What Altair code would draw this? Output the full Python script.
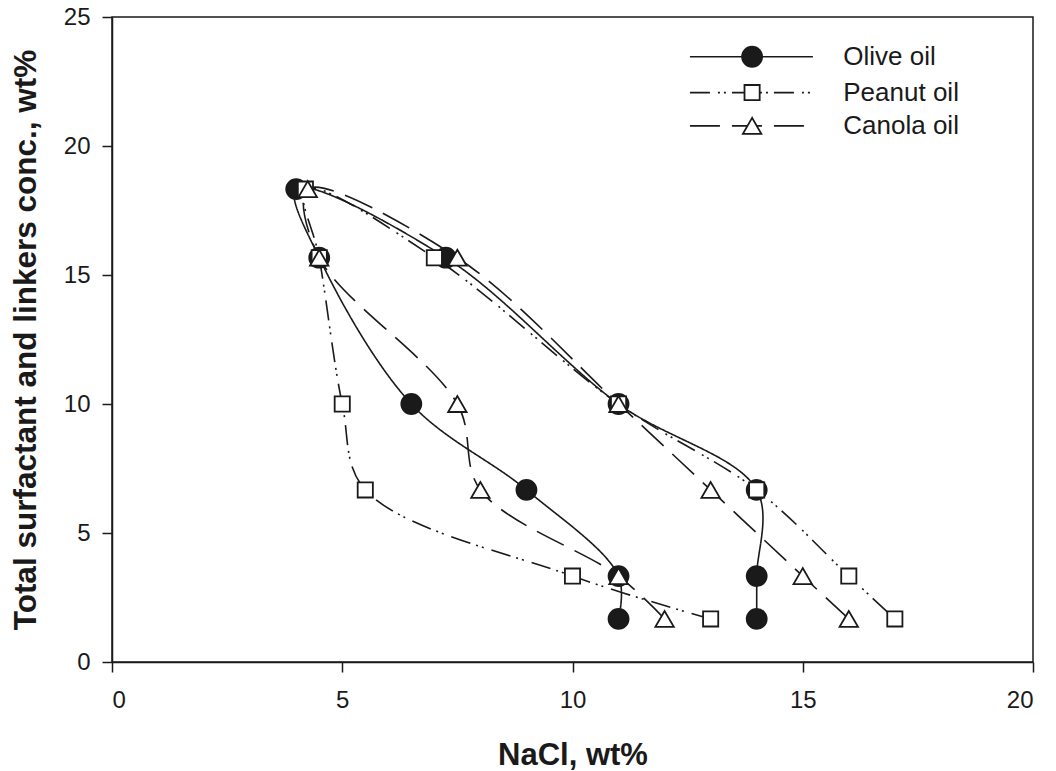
import altair as alt
import pandas as pd

# ---- data ----
y_levels = [1.67, 3.33, 6.67, 10.0, 15.67, 18.33, 15.67, 10.0, 6.67, 3.33, 1.67]
olive_x = [11.0, 11.0, 9.0, 6.5, 4.5, 4.0, 7.25, 11.0, 14.0, 14.0, 14.0]
peanut_x = [13.0, 10.0, 5.5, 5.0, 4.5, 4.2, 7.0, 11.0, 14.0, 16.0, 17.0]
canola_x = [12.0, 11.0, 8.0, 7.5, 4.5, 4.25, 7.5, 11.0, 13.0, 15.0, 16.0]
series_names = ["Olive oil", "Peanut oil", "Canola oil"]

rows = []
for name, xs in zip(series_names, [olive_x, peanut_x, canola_x]):
    for i, (xv, yv) in enumerate(zip(xs, y_levels)):
        rows.append({"oil": name, "order": i, "nacl": xv, "conc": yv})
df = pd.DataFrame(rows)

FONT = "Liberation Sans"
INK = "#1a1a1a"
styles = {
    "Olive oil": dict(dash=[1, 0], shape="circle", fill=INK, size=400),
    "Peanut oil": dict(dash=[20, 8, 2, 4, 2, 6], shape="square", fill="white", size=230),
    "Canola oil": dict(dash=[30, 12], shape="triangle-up", fill="white", size=340),
}

xscale = alt.Scale(domain=[0, 20], nice=False, zero=False)
yscale = alt.Scale(domain=[0, 25], nice=False, zero=False)
xaxis = alt.Axis(values=[0, 5, 10, 15, 20], title="NaCl, wt%", format="d",
                 titleFontSize=31, titlePadding=28)
yaxis = alt.Axis(values=[0, 5, 10, 15, 20, 25], title="Total surfactant and linkers conc., wt%",
                 format="d", titleFontSize=31.5, titlePadding=21)

layers = []
for name in series_names:
    st = styles[name]
    sub = df[df.oil == name]
    line = alt.Chart(sub).mark_line(
        interpolate="catmull-rom", color=INK, strokeWidth=1.6, strokeDash=st["dash"]
    ).encode(
        x=alt.X("nacl:Q", scale=xscale, axis=xaxis),
        y=alt.Y("conc:Q", scale=yscale, axis=yaxis),
        order="order:Q",
    )
    layers.append(line)
for name in series_names:
    st = styles[name]
    sub = df[df.oil == name]
    pts = alt.Chart(sub).mark_point(
        shape=st["shape"], filled=True, fill=st["fill"], stroke=INK,
        strokeWidth=1.8, size=st["size"], opacity=1
    ).encode(x="nacl:Q", y="conc:Q")
    layers.append(pts)

# ---- legend (drawn inside the plot, upper right) ----
leg_y = [23.46, 22.07, 20.78]
leg_x_start, leg_x_end, leg_x_mark, leg_x_text = 12.55, 15.22, 13.9, 15.88
for name, ly in zip(series_names, leg_y):
    st = styles[name]
    ldf = pd.DataFrame({"oil": [name], "x0": [leg_x_start], "x1": [leg_x_end],
                        "xm": [leg_x_mark], "xt": [leg_x_text], "y": [ly]})
    layers.append(alt.Chart(ldf).mark_rule(color=INK, strokeWidth=1.6, strokeDash=st["dash"]).encode(
        x="x0:Q", x2="x1:Q", y="y:Q"))
    layers.append(alt.Chart(ldf).mark_point(
        shape=st["shape"], filled=True, fill=st["fill"], stroke=INK,
        strokeWidth=1.8, size=st["size"], opacity=1).encode(x="xm:Q", y="y:Q"))
    layers.append(alt.Chart(ldf).mark_text(
        align="left", baseline="middle", font=FONT, fontSize=26, color=INK).encode(
        x="xt:Q", y="y:Q", text="oil:N"))

chart = alt.layer(*layers).properties(
    width=921, height=645,
    autosize=alt.AutoSizeParams(type="none"),
    padding={"left": 112, "top": 17, "right": 23, "bottom": 109},
    background="white",
).configure_view(
    stroke=INK, strokeWidth=1.5
).configure_axis(
    domainColor=INK, domainWidth=1.5, tickColor=INK, tickWidth=1.5,
    tickSize=10, grid=False, labelFont=FONT, labelFontSize=24, labelColor=INK,
    titleFont=FONT, titleFontWeight="bold", titleColor=INK,
).configure_axisX(labelPadding=16).configure_axisY(labelPadding=12)

chart.save("out.html", embed_options={"renderer": "svg", "actions": False})
